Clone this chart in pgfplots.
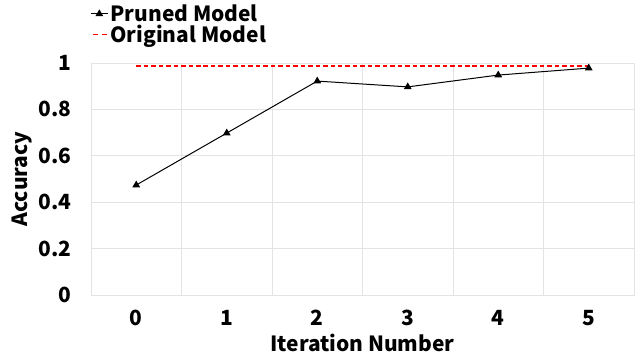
\documentclass[border=0pt]{standalone}
\usepackage{fontspec}
\setmainfont{Noto Sans CJK SC}
\usepackage{pgfplots}
\pgfplotsset{compat=1.18}
\definecolor{gridgray}{HTML}{E3E3E3}
\begin{document}
\begin{tikzpicture}
\begin{axis}[
  at={(0,0)}, anchor=south west,
  scale only axis, width=543bp, height=232bp,
  xmin=-0.5, xmax=5.5, ymin=0, ymax=1,
  xtick={0,1,2,3,4,5},
  minor xtick={-0.5,0.5,1.5,2.5,3.5,4.5,5.5},
  ytick={0,0.2,0.4,0.6,0.8,1},
  yticklabels={0,0.2,0.4,0.6,0.8,1},
  xminorgrids, ymajorgrids,
  major tick length=0pt, minor tick length=0pt,
  grid style={gridgray, line width=0.8pt},
  minor grid style={gridgray, line width=0.8pt},
  axis line style={gridgray, line width=0.8pt},
  /pgf/number format/assume math mode=true,
  tick label style={font=\fontsize{21}{23}\selectfont\bfseries},
  xticklabel style={anchor=center, yshift=-23bp},
  yticklabel style={anchor=east, xshift=-16bp},
  xlabel={Iteration Number},
  ylabel={Accuracy},
  xlabel style={at={(axis description cs:0.5,0)}, anchor=center, yshift=-48bp,
    font=\fontsize{21}{23}\selectfont\bfseries},
  ylabel style={at={(axis description cs:0,0.5)}, anchor=center, yshift=69bp,
    font=\fontsize{21}{23}\selectfont\bfseries},
  legend style={at={(0,1)}, anchor=south west, yshift=17bp, xshift=-1bp,
    draw=none, fill=none, inner sep=0pt, row sep=-2bp,
    font=\fontsize{21}{23}\selectfont\bfseries, cells={anchor=west}},
  legend cell align=left,
]
\addplot[black, line width=1pt, mark=triangle*, mark size=3.5pt] coordinates {
  (0,0.474) (1,0.698) (2,0.922) (3,0.897) (4,0.948) (5,0.978)};
\addlegendentry{Pruned Model}
\addplot[red, line width=1.3pt, dash pattern=on 4.5pt off 3pt,
  legend image post style={dash pattern=on 5pt off 4pt, dash phase=-2pt}] coordinates {(0,0.987) (5,0.987)};
\addlegendentry{Original Model}
\end{axis}
\useasboundingbox (-91bp,-67bp) rectangle (549bp,295bp);
\end{tikzpicture}
\end{document}
